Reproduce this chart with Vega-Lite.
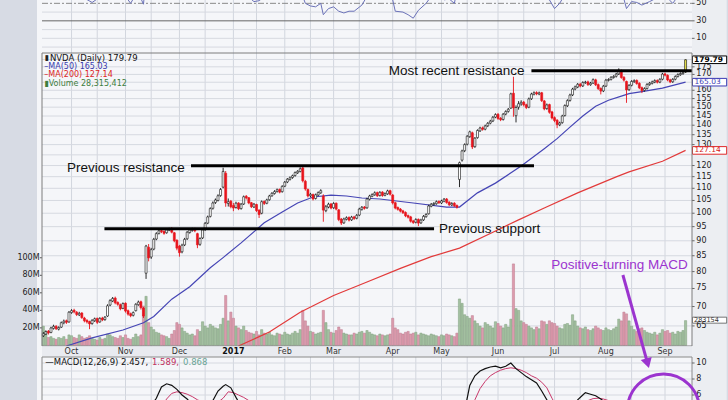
{
"$schema":"https://vega.github.io/schema/vega-lite/v6.json",
"width":660,"height":400,"autosize":{"type":"none"},
"padding":{"left":37,"right":31,"top":0,"bottom":0},
"background":"#d7dbe4",
"view":{"fill":"#f5f6f9","stroke":null},
"config":{"font":"DejaVu Sans"},
"datasets":{
"d":[
{"i":0,"o":62.6,"h":63.5,"l":62.3,"c":63.1,"v":22},{"i":1,"o":63.0,"h":63.9,"l":62.8,"c":63.6,"v":16},{"i":2,"o":63.7,"h":64.0,"l":62.9,"c":63.3,"v":9},{"i":3,"o":63.4,"h":64.8,"l":63.2,"c":64.5,"v":10},{"i":4,"o":64.4,"h":65.3,"l":64.1,"c":64.9,"v":8},{"i":5,"o":64.9,"h":65.2,"l":64.0,"c":64.3,"v":7},{"i":6,"o":64.2,"h":64.9,"l":63.9,"c":64.6,"v":9},{"i":7,"o":64.7,"h":66.1,"l":64.5,"c":65.8,"v":8},{"i":8,"o":65.8,"h":66.6,"l":65.4,"c":66.2,"v":10},{"i":9,"o":66.3,"h":66.6,"l":65.5,"c":65.9,"v":7},
{"i":10,"o":66.0,"h":68.8,"l":65.8,"c":68.5,"v":12},{"i":11,"o":68.4,"h":69.3,"l":68.1,"c":68.9,"v":11},{"i":12,"o":69.0,"h":69.4,"l":68.2,"c":68.6,"v":9},{"i":13,"o":68.5,"h":68.8,"l":67.5,"c":67.9,"v":8},{"i":14,"o":67.8,"h":68.6,"l":67.5,"c":68.2,"v":12},{"i":15,"o":68.3,"h":68.5,"l":66.8,"c":67.1,"v":10},{"i":16,"o":67.0,"h":67.3,"l":65.9,"c":66.3,"v":8},{"i":17,"o":66.4,"h":66.7,"l":65.6,"c":66.0,"v":9},{"i":18,"o":66.1,"h":66.3,"l":64.2,"c":65.5,"v":11},{"i":19,"o":65.6,"h":66.7,"l":65.3,"c":66.4,"v":8},
{"i":20,"o":66.3,"h":67.1,"l":66.0,"c":66.8,"v":7},{"i":21,"o":66.9,"h":67.1,"l":65.5,"c":65.9,"v":6},{"i":22,"o":66.0,"h":67.2,"l":65.8,"c":66.9,"v":9},{"i":23,"o":67.0,"h":67.3,"l":66.2,"c":66.5,"v":7},{"i":24,"o":66.6,"h":67.5,"l":66.3,"c":67.2,"v":8},{"i":25,"o":67.5,"h":70.6,"l":67.3,"c":70.2,"v":13},{"i":26,"o":70.4,"h":72.0,"l":70.1,"c":71.6,"v":12},{"i":27,"o":71.5,"h":72.6,"l":71.2,"c":72.2,"v":10},{"i":28,"o":72.3,"h":72.7,"l":70.6,"c":71.0,"v":9},{"i":29,"o":71.1,"h":71.4,"l":70.2,"c":70.6,"v":8},
{"i":30,"o":70.5,"h":70.8,"l":69.0,"c":69.4,"v":11},{"i":31,"o":69.5,"h":71.1,"l":69.3,"c":70.8,"v":9},{"i":32,"o":70.9,"h":71.1,"l":68.4,"c":68.8,"v":12},{"i":33,"o":68.9,"h":69.2,"l":67.6,"c":68.0,"v":8},{"i":34,"o":68.1,"h":68.4,"l":67.2,"c":67.6,"v":7},{"i":35,"o":67.7,"h":68.7,"l":67.4,"c":68.4,"v":9},{"i":36,"o":68.9,"h":70.9,"l":68.7,"c":70.6,"v":13},{"i":37,"o":70.5,"h":71.6,"l":70.2,"c":71.2,"v":10},{"i":38,"o":71.3,"h":71.6,"l":69.2,"c":69.7,"v":12},{"i":39,"o":69.6,"h":69.9,"l":67.0,"c":67.5,"v":45},
{"i":40,"o":79.5,"h":88.6,"l":77.8,"c":88.2,"v":56},{"i":41,"o":87.8,"h":88.9,"l":83.2,"c":84.3,"v":26},{"i":42,"o":84.6,"h":87.6,"l":84.0,"c":87.0,"v":21},{"i":43,"o":87.2,"h":91.0,"l":86.8,"c":90.5,"v":18},{"i":44,"o":90.6,"h":93.0,"l":90.2,"c":92.5,"v":15},{"i":45,"o":92.6,"h":94.0,"l":92.2,"c":93.5,"v":14},{"i":46,"o":93.6,"h":94.1,"l":92.7,"c":93.2,"v":12},{"i":47,"o":93.3,"h":93.7,"l":92.1,"c":92.6,"v":11},{"i":48,"o":92.8,"h":94.2,"l":92.5,"c":93.8,"v":10},{"i":49,"o":93.7,"h":94.6,"l":93.4,"c":94.2,"v":8},
{"i":50,"o":94.3,"h":94.8,"l":92.6,"c":93.0,"v":13},{"i":51,"o":92.8,"h":93.1,"l":89.5,"c":90.0,"v":17},{"i":52,"o":90.2,"h":90.5,"l":86.8,"c":87.5,"v":26},{"i":53,"o":88.2,"h":88.6,"l":84.7,"c":86.0,"v":24},{"i":54,"o":86.3,"h":89.0,"l":85.8,"c":88.5,"v":20},{"i":55,"o":88.6,"h":91.0,"l":88.2,"c":90.5,"v":16},{"i":56,"o":90.7,"h":93.4,"l":90.3,"c":93.0,"v":14},{"i":57,"o":92.9,"h":94.3,"l":92.5,"c":93.8,"v":12},{"i":58,"o":93.6,"h":94.6,"l":93.2,"c":94.1,"v":13},{"i":59,"o":94.2,"h":94.6,"l":93.0,"c":93.5,"v":11},
{"i":60,"o":92.5,"h":92.8,"l":87.5,"c":88.6,"v":18},{"i":61,"o":88.8,"h":91.2,"l":88.3,"c":90.8,"v":16},{"i":62,"o":91.0,"h":94.2,"l":90.6,"c":93.8,"v":27},{"i":63,"o":93.9,"h":96.7,"l":93.5,"c":96.2,"v":22},{"i":64,"o":96.3,"h":99.1,"l":95.9,"c":98.6,"v":20},{"i":65,"o":98.8,"h":102.3,"l":98.4,"c":101.8,"v":24},{"i":66,"o":101.9,"h":104.6,"l":101.4,"c":104.0,"v":22},{"i":67,"o":104.2,"h":105.8,"l":103.6,"c":105.2,"v":20},{"i":68,"o":105.0,"h":107.5,"l":104.6,"c":106.9,"v":19},{"i":69,"o":107.0,"h":110.1,"l":106.5,"c":109.5,"v":24},
{"i":70,"o":110.5,"h":119.0,"l":110.0,"c":117.3,"v":31},{"i":71,"o":116.5,"h":117.5,"l":102.5,"c":104.0,"v":57},{"i":72,"o":103.8,"h":105.8,"l":102.6,"c":104.5,"v":28},{"i":73,"o":104.7,"h":105.2,"l":101.9,"c":102.5,"v":38},{"i":74,"o":103.0,"h":104.0,"l":100.8,"c":102.0,"v":31},{"i":75,"o":102.2,"h":104.5,"l":101.8,"c":103.9,"v":22},{"i":76,"o":104.0,"h":104.3,"l":101.2,"c":101.7,"v":20},{"i":77,"o":101.8,"h":104.0,"l":101.4,"c":103.5,"v":18},{"i":78,"o":103.6,"h":107.0,"l":103.2,"c":106.5,"v":22},{"i":79,"o":106.7,"h":107.2,"l":105.4,"c":106.0,"v":17},
{"i":80,"o":106.1,"h":106.4,"l":103.5,"c":104.0,"v":15},{"i":81,"o":104.1,"h":104.4,"l":102.0,"c":102.5,"v":14},{"i":82,"o":102.4,"h":104.0,"l":102.0,"c":103.5,"v":13},{"i":83,"o":103.4,"h":103.7,"l":100.5,"c":101.0,"v":16},{"i":84,"o":101.2,"h":101.5,"l":98.2,"c":99.5,"v":12},{"i":85,"o":100.0,"h":105.0,"l":99.6,"c":104.5,"v":18},{"i":86,"o":104.6,"h":105.0,"l":103.2,"c":103.8,"v":14},{"i":87,"o":103.9,"h":105.7,"l":103.5,"c":105.2,"v":13},{"i":88,"o":105.3,"h":107.3,"l":104.9,"c":106.8,"v":15},{"i":89,"o":106.9,"h":108.4,"l":106.5,"c":107.9,"v":12},
{"i":90,"o":107.8,"h":109.2,"l":107.4,"c":108.6,"v":11},{"i":91,"o":108.7,"h":109.9,"l":108.2,"c":109.4,"v":14},{"i":92,"o":109.5,"h":109.9,"l":107.9,"c":108.4,"v":13},{"i":93,"o":108.6,"h":111.3,"l":108.2,"c":110.8,"v":12},{"i":94,"o":110.9,"h":113.1,"l":110.5,"c":112.6,"v":15},{"i":95,"o":112.7,"h":114.4,"l":112.2,"c":113.9,"v":13},{"i":96,"o":113.8,"h":115.1,"l":113.3,"c":114.5,"v":12},{"i":97,"o":114.6,"h":115.9,"l":114.1,"c":115.4,"v":14},{"i":98,"o":115.5,"h":117.3,"l":115.0,"c":116.8,"v":16},{"i":99,"o":116.7,"h":117.9,"l":116.2,"c":117.4,"v":14},
{"i":100,"o":117.3,"h":119.2,"l":116.9,"c":118.5,"v":18},{"i":101,"o":118.9,"h":119.8,"l":112.5,"c":113.2,"v":40},{"i":102,"o":113.0,"h":113.6,"l":109.0,"c":109.7,"v":28},{"i":103,"o":109.5,"h":109.9,"l":106.2,"c":106.8,"v":22},{"i":104,"o":106.9,"h":108.1,"l":106.3,"c":107.5,"v":16},{"i":105,"o":107.4,"h":107.8,"l":105.0,"c":105.6,"v":15},{"i":106,"o":105.8,"h":107.8,"l":105.4,"c":107.3,"v":13},{"i":107,"o":107.2,"h":108.7,"l":106.8,"c":108.2,"v":14},{"i":108,"o":108.1,"h":109.6,"l":107.7,"c":109.0,"v":15},{"i":109,"o":106.8,"h":107.5,"l":96.8,"c":101.2,"v":40},
{"i":110,"o":101.0,"h":103.2,"l":100.4,"c":102.5,"v":26},{"i":111,"o":102.4,"h":104.1,"l":101.9,"c":103.5,"v":18},{"i":112,"o":103.6,"h":104.0,"l":101.5,"c":102.0,"v":15},{"i":113,"o":102.1,"h":104.3,"l":101.7,"c":103.8,"v":14},{"i":114,"o":103.9,"h":104.2,"l":101.1,"c":101.6,"v":17},{"i":115,"o":101.3,"h":101.6,"l":97.0,"c":97.6,"v":21},{"i":116,"o":97.8,"h":98.2,"l":95.6,"c":96.3,"v":18},{"i":117,"o":96.4,"h":98.3,"l":96.0,"c":97.8,"v":14},{"i":118,"o":97.7,"h":98.8,"l":97.3,"c":98.3,"v":13},{"i":119,"o":98.4,"h":98.8,"l":96.9,"c":97.4,"v":12},
{"i":120,"o":97.5,"h":99.0,"l":97.1,"c":98.5,"v":12},{"i":121,"o":98.6,"h":99.0,"l":97.5,"c":98.0,"v":14},{"i":122,"o":98.1,"h":99.7,"l":97.7,"c":99.2,"v":13},{"i":123,"o":99.3,"h":102.1,"l":98.9,"c":101.6,"v":15},{"i":124,"o":101.5,"h":102.8,"l":101.0,"c":102.3,"v":16},{"i":125,"o":102.4,"h":102.8,"l":101.4,"c":101.9,"v":14},{"i":126,"o":102.1,"h":106.1,"l":101.7,"c":105.6,"v":17},{"i":127,"o":105.5,"h":107.3,"l":105.0,"c":106.8,"v":15},{"i":128,"o":106.7,"h":107.9,"l":106.3,"c":107.4,"v":13},{"i":129,"o":107.3,"h":108.7,"l":106.9,"c":108.1,"v":12},
{"i":130,"o":108.2,"h":108.6,"l":106.4,"c":106.9,"v":11},{"i":131,"o":107.0,"h":108.8,"l":106.6,"c":108.3,"v":13},{"i":132,"o":108.4,"h":108.8,"l":106.5,"c":107.0,"v":12},{"i":133,"o":107.1,"h":108.3,"l":106.7,"c":107.8,"v":11},{"i":134,"o":107.7,"h":109.4,"l":107.3,"c":108.9,"v":12},{"i":135,"o":109.0,"h":109.4,"l":107.0,"c":107.5,"v":13},{"i":136,"o":107.2,"h":107.6,"l":103.4,"c":104.0,"v":31},{"i":137,"o":104.1,"h":104.5,"l":101.5,"c":102.0,"v":20},{"i":138,"o":102.2,"h":102.6,"l":101.0,"c":101.5,"v":18},{"i":139,"o":101.6,"h":102.0,"l":100.3,"c":100.8,"v":14},
{"i":140,"o":100.9,"h":101.3,"l":99.7,"c":100.2,"v":13},{"i":141,"o":100.3,"h":100.7,"l":98.5,"c":99.0,"v":15},{"i":142,"o":99.1,"h":99.5,"l":98.0,"c":98.5,"v":16},{"i":143,"o":98.6,"h":99.0,"l":96.5,"c":97.0,"v":13},{"i":144,"o":97.1,"h":97.5,"l":96.0,"c":96.5,"v":14},{"i":145,"o":96.6,"h":98.1,"l":96.2,"c":97.6,"v":15},{"i":146,"o":97.7,"h":98.0,"l":95.2,"c":96.3,"v":12},{"i":147,"o":96.4,"h":97.9,"l":96.0,"c":97.4,"v":14},{"i":148,"o":97.5,"h":99.3,"l":97.1,"c":98.8,"v":13},{"i":149,"o":98.7,"h":100.0,"l":98.3,"c":99.5,"v":12},
{"i":150,"o":99.8,"h":103.3,"l":99.5,"c":102.8,"v":11},{"i":151,"o":102.7,"h":104.0,"l":102.3,"c":103.5,"v":13},{"i":152,"o":103.4,"h":104.3,"l":102.9,"c":103.8,"v":12},{"i":153,"o":103.7,"h":105.0,"l":103.3,"c":104.5,"v":11},{"i":154,"o":104.6,"h":105.0,"l":103.6,"c":104.1,"v":10},{"i":155,"o":104.0,"h":105.3,"l":103.6,"c":104.8,"v":12},{"i":156,"o":104.7,"h":106.0,"l":104.3,"c":105.5,"v":11},{"i":157,"o":105.6,"h":106.0,"l":103.7,"c":104.2,"v":13},{"i":158,"o":104.3,"h":104.7,"l":102.8,"c":103.3,"v":12},{"i":159,"o":103.2,"h":104.3,"l":102.8,"c":103.8,"v":11},
{"i":160,"o":103.9,"h":104.3,"l":102.4,"c":102.9,"v":10},{"i":161,"o":103.0,"h":103.4,"l":101.8,"c":102.3,"v":14},{"i":162,"o":113.8,"h":121.8,"l":110.5,"c":121.3,"v":53},{"i":163,"o":122.5,"h":127.5,"l":121.8,"c":126.9,"v":48},{"i":164,"o":127.0,"h":130.6,"l":126.3,"c":130.0,"v":35},{"i":165,"o":130.2,"h":134.8,"l":129.6,"c":134.2,"v":33},{"i":166,"o":134.0,"h":137.1,"l":133.4,"c":136.5,"v":31},{"i":167,"o":136.0,"h":136.6,"l":127.8,"c":128.8,"v":34},{"i":168,"o":129.0,"h":133.8,"l":128.4,"c":133.2,"v":28},{"i":169,"o":133.5,"h":137.8,"l":133.0,"c":137.2,"v":25},
{"i":170,"o":137.0,"h":139.2,"l":136.4,"c":138.5,"v":22},{"i":171,"o":138.6,"h":139.3,"l":137.1,"c":137.8,"v":20},{"i":172,"o":137.9,"h":140.3,"l":137.3,"c":139.6,"v":26},{"i":173,"o":139.7,"h":141.7,"l":139.0,"c":141.0,"v":24},{"i":174,"o":141.1,"h":142.9,"l":140.5,"c":142.2,"v":22},{"i":175,"o":142.3,"h":145.0,"l":141.7,"c":144.3,"v":20},{"i":176,"o":144.4,"h":146.5,"l":143.8,"c":145.8,"v":27},{"i":177,"o":146.0,"h":146.6,"l":142.9,"c":143.6,"v":25},{"i":178,"o":143.8,"h":144.4,"l":142.2,"c":143.0,"v":22},{"i":179,"o":143.1,"h":146.7,"l":142.5,"c":146.0,"v":20},
{"i":180,"o":146.1,"h":148.2,"l":145.4,"c":147.5,"v":24},{"i":181,"o":147.6,"h":149.5,"l":146.9,"c":148.8,"v":21},{"i":182,"o":149.5,"h":158.5,"l":149.0,"c":157.8,"v":30},{"i":183,"o":158.2,"h":168.5,"l":144.6,"c":149.6,"v":93},{"i":184,"o":145.2,"h":151.0,"l":141.5,"c":149.8,"v":42},{"i":185,"o":150.0,"h":153.5,"l":148.6,"c":152.0,"v":40},{"i":186,"o":151.9,"h":154.0,"l":150.8,"c":152.8,"v":28},{"i":187,"o":152.9,"h":153.6,"l":150.4,"c":151.3,"v":26},{"i":188,"o":151.4,"h":152.0,"l":148.9,"c":149.8,"v":24},{"i":189,"o":150.0,"h":155.6,"l":149.4,"c":154.8,"v":22},
{"i":190,"o":154.9,"h":158.5,"l":154.2,"c":157.7,"v":20},{"i":191,"o":157.6,"h":159.3,"l":156.9,"c":158.5,"v":18},{"i":192,"o":158.6,"h":159.4,"l":157.0,"c":157.8,"v":21},{"i":193,"o":157.7,"h":159.2,"l":157.0,"c":158.4,"v":19},{"i":194,"o":158.5,"h":159.0,"l":153.0,"c":153.8,"v":28},{"i":195,"o":153.6,"h":154.2,"l":148.2,"c":149.0,"v":27},{"i":196,"o":149.2,"h":152.1,"l":148.5,"c":151.3,"v":24},{"i":197,"o":151.5,"h":152.0,"l":146.3,"c":147.1,"v":28},{"i":198,"o":147.3,"h":147.9,"l":143.1,"c":143.9,"v":26},{"i":199,"o":144.1,"h":144.8,"l":141.6,"c":142.5,"v":25},
{"i":200,"o":142.7,"h":143.3,"l":138.4,"c":140.3,"v":22},{"i":201,"o":140.2,"h":141.9,"l":139.5,"c":141.2,"v":20},{"i":202,"o":141.4,"h":145.7,"l":140.8,"c":145.0,"v":19},{"i":203,"o":145.3,"h":151.6,"l":144.7,"c":150.9,"v":24},{"i":204,"o":150.8,"h":154.6,"l":150.1,"c":153.8,"v":25},{"i":205,"o":153.9,"h":157.9,"l":153.2,"c":157.1,"v":23},{"i":206,"o":157.2,"h":161.5,"l":156.5,"c":160.7,"v":35},{"i":207,"o":160.8,"h":162.9,"l":160.0,"c":162.1,"v":28},{"i":208,"o":162.0,"h":164.5,"l":161.3,"c":163.7,"v":22},{"i":209,"o":163.8,"h":164.6,"l":161.8,"c":162.6,"v":20},
{"i":210,"o":162.7,"h":165.6,"l":162.0,"c":164.8,"v":19},{"i":211,"o":164.7,"h":165.9,"l":164.0,"c":165.1,"v":21},{"i":212,"o":165.2,"h":166.0,"l":162.7,"c":163.5,"v":18},{"i":213,"o":163.4,"h":165.2,"l":162.8,"c":164.4,"v":17},{"i":214,"o":164.5,"h":167.4,"l":163.9,"c":166.6,"v":19},{"i":215,"o":166.5,"h":167.2,"l":162.6,"c":163.4,"v":22},{"i":216,"o":163.5,"h":164.2,"l":160.2,"c":161.0,"v":20},{"i":217,"o":161.1,"h":161.8,"l":157.5,"c":159.5,"v":18},{"i":218,"o":159.6,"h":163.3,"l":158.9,"c":162.5,"v":17},{"i":219,"o":162.6,"h":167.1,"l":162.0,"c":166.3,"v":20},
{"i":220,"o":166.2,"h":167.5,"l":165.5,"c":166.7,"v":18},{"i":221,"o":166.8,"h":168.9,"l":166.1,"c":168.1,"v":17},{"i":222,"o":168.0,"h":169.5,"l":167.3,"c":168.7,"v":19},{"i":223,"o":168.8,"h":171.0,"l":168.0,"c":170.2,"v":21},{"i":224,"o":170.3,"h":174.0,"l":169.6,"c":172.6,"v":30},{"i":225,"o":172.4,"h":173.2,"l":167.2,"c":168.0,"v":28},{"i":226,"o":168.1,"h":168.9,"l":165.4,"c":166.3,"v":38},{"i":227,"o":165.5,"h":166.0,"l":152.5,"c":160.2,"v":36},{"i":228,"o":160.4,"h":163.8,"l":159.6,"c":163.0,"v":28},{"i":229,"o":163.1,"h":166.3,"l":162.4,"c":165.5,"v":22},
{"i":230,"o":165.4,"h":166.8,"l":164.6,"c":166.0,"v":18},{"i":231,"o":166.1,"h":166.8,"l":163.4,"c":164.2,"v":16},{"i":232,"o":164.3,"h":165.0,"l":160.7,"c":161.5,"v":19},{"i":233,"o":161.6,"h":162.3,"l":158.3,"c":159.8,"v":20},{"i":234,"o":159.9,"h":161.8,"l":159.2,"c":161.0,"v":17},{"i":235,"o":161.1,"h":164.4,"l":160.4,"c":163.6,"v":15},{"i":236,"o":163.5,"h":165.2,"l":162.8,"c":164.4,"v":14},{"i":237,"o":164.3,"h":166.0,"l":163.6,"c":165.2,"v":13},{"i":238,"o":165.1,"h":166.8,"l":164.4,"c":166.0,"v":15},{"i":239,"o":166.1,"h":166.8,"l":164.2,"c":165.0,"v":12},
{"i":240,"o":165.1,"h":167.6,"l":164.4,"c":166.8,"v":14},{"i":241,"o":166.9,"h":171.0,"l":166.2,"c":170.2,"v":18},{"i":242,"o":170.3,"h":171.1,"l":168.7,"c":169.5,"v":16},{"i":243,"o":169.4,"h":170.0,"l":165.6,"c":166.4,"v":17},{"i":244,"o":166.5,"h":167.2,"l":164.4,"c":165.2,"v":14},{"i":245,"o":165.3,"h":167.6,"l":164.6,"c":166.8,"v":15},{"i":246,"o":166.9,"h":169.4,"l":166.2,"c":168.6,"v":13},{"i":247,"o":168.7,"h":170.7,"l":168.0,"c":169.9,"v":16},{"i":248,"o":169.8,"h":171.4,"l":169.1,"c":170.6,"v":15},{"i":249,"o":170.5,"h":172.0,"l":169.8,"c":171.2,"v":17},
{"i":250,"o":171.5,"h":180.0,"l":171.0,"c":179.79,"v":28.3}
],
"ma50":[{"i":9,"m":60.2},{"i":19,"m":62.1},{"i":31,"m":64.0},{"i":39,"m":65.8},{"i":43,"m":67.4},{"i":50,"m":72.0},{"i":57,"m":75.5},{"i":65,"m":81.2},{"i":70,"m":84.4},{"i":77,"m":89.3},{"i":86,"m":96.4},{"i":93,"m":100.5},{"i":99,"m":104.0},{"i":105,"m":106.4},{"i":112,"m":107.2},{"i":118,"m":106.8},{"i":124,"m":106.0},{"i":131,"m":105.6},{"i":144,"m":104.0},{"i":157,"m":102.4},{"i":162,"m":102.4},{"i":169,"m":108.1},{"i":176,"m":112.2},{"i":186,"m":119.8},{"i":195,"m":128.0},{"i":200,"m":133.0},{"i":205,"m":139.0},{"i":210,"m":145.0},{"i":215,"m":150.5},{"i":220,"m":154.0},{"i":225,"m":156.5},{"i":228,"m":158.0},{"i":233,"m":159.2},{"i":241,"m":161.3},{"i":250,"m":165.03}],
"ma200":[{"i":76,"m":60.2},{"i":88,"m":63.5},{"i":100,"m":68.5},{"i":113,"m":73.0},{"i":126,"m":76.9},{"i":139,"m":81.0},{"i":151,"m":84.7},{"i":162,"m":87.5},{"i":175,"m":93.0},{"i":185,"m":97.5},{"i":195,"m":102.0},{"i":208,"m":108.1},{"i":223,"m":114.9},{"i":228,"m":117.1},{"i":241,"m":122.0},{"i":250,"m":127.14}],
"macd":[{"i":30,"v":1.0},{"i":38,"v":1.2},{"i":40,"v":2.8},{"i":42,"v":4.6},{"i":44,"v":5.6},{"i":46,"v":7.0},{"i":48,"v":7.4},{"i":50,"v":7.2},{"i":52,"v":6.7},{"i":54,"v":6.0},{"i":56,"v":5.5},{"i":58,"v":4.8},{"i":60,"v":4.3},{"i":62,"v":4.3},{"i":64,"v":4.8},{"i":66,"v":5.3},{"i":68,"v":6.5},{"i":70,"v":7.1},{"i":71,"v":7.3},{"i":73,"v":6.9},{"i":75,"v":5.7},{"i":77,"v":4.6},{"i":80,"v":3.9},{"i":85,"v":3.0},{"i":90,"v":3.2},{"i":95,"v":3.8},{"i":100,"v":4.4},{"i":104,"v":3.6},{"i":110,"v":1.5},{"i":115,"v":0.3},{"i":120,"v":-0.8},{"i":125,"v":-0.4},{"i":130,"v":0.6},{"i":135,"v":0.8},{"i":140,"v":-1.2},{"i":145,"v":-2.0},{"i":150,"v":-1.5},{"i":155,"v":-0.8},{"i":160,"v":-0.5},{"i":162,"v":1.5},{"i":164,"v":4.0},{"i":166,"v":7.2},{"i":168,"v":8.4},{"i":170,"v":9.0},{"i":172,"v":9.3},{"i":174,"v":9.5},{"i":176,"v":9.6},{"i":178,"v":9.4},{"i":180,"v":9.6},{"i":182,"v":10.0},{"i":184,"v":9.3},{"i":186,"v":8.8},{"i":188,"v":8.3},{"i":190,"v":7.9},{"i":192,"v":7.5},{"i":194,"v":6.5},{"i":196,"v":5.4},{"i":198,"v":4.0},{"i":200,"v":2.8},{"i":202,"v":2.5},{"i":204,"v":3.2},{"i":206,"v":4.4},{"i":208,"v":5.4},{"i":210,"v":6.0},{"i":211,"v":6.3},{"i":213,"v":6.1},{"i":215,"v":5.9},{"i":217,"v":5.5},{"i":219,"v":5.0},{"i":221,"v":4.8},{"i":224,"v":5.2},{"i":226,"v":4.2},{"i":228,"v":3.0},{"i":232,"v":1.8},{"i":236,"v":1.4},{"i":240,"v":1.7},{"i":244,"v":1.9},{"i":247,"v":1.9},{"i":250,"v":2.46}],
"sig":[{"i":40,"v":1.2},{"i":44,"v":2.8},{"i":46,"v":4.5},{"i":48,"v":5.5},{"i":50,"v":6.2},{"i":52,"v":6.4},{"i":54,"v":6.3},{"i":56,"v":6.1},{"i":58,"v":5.8},{"i":60,"v":5.4},{"i":62,"v":5.1},{"i":64,"v":5.0},{"i":66,"v":5.0},{"i":68,"v":5.1},{"i":70,"v":5.6},{"i":72,"v":6.4},{"i":74,"v":6.3},{"i":76,"v":6.0},{"i":78,"v":5.7},{"i":80,"v":5.3},{"i":85,"v":4.4},{"i":90,"v":3.8},{"i":95,"v":3.7},{"i":100,"v":3.9},{"i":105,"v":3.9},{"i":110,"v":3.0},{"i":115,"v":1.8},{"i":120,"v":0.6},{"i":125,"v":0.0},{"i":130,"v":0.1},{"i":135,"v":0.3},{"i":140,"v":-0.2},{"i":145,"v":-1.0},{"i":150,"v":-1.3},{"i":155,"v":-1.2},{"i":160,"v":-0.9},{"i":164,"v":0.4},{"i":166,"v":2.4},{"i":168,"v":5.4},{"i":170,"v":6.8},{"i":172,"v":7.7},{"i":174,"v":8.4},{"i":176,"v":8.8},{"i":178,"v":9.1},{"i":180,"v":9.3},{"i":182,"v":9.4},{"i":184,"v":9.3},{"i":186,"v":9.1},{"i":188,"v":8.8},{"i":190,"v":8.4},{"i":192,"v":8.1},{"i":194,"v":7.6},{"i":196,"v":6.9},{"i":198,"v":5.6},{"i":200,"v":4.4},{"i":202,"v":3.6},{"i":204,"v":3.5},{"i":206,"v":3.8},{"i":208,"v":4.3},{"i":210,"v":4.9},{"i":212,"v":5.3},{"i":214,"v":5.55},{"i":216,"v":5.6},{"i":218,"v":5.5},{"i":220,"v":5.3},{"i":222,"v":5.2},{"i":224,"v":5.1},{"i":226,"v":4.9},{"i":228,"v":4.3},{"i":232,"v":3.1},{"i":236,"v":2.2},{"i":240,"v":1.8},{"i":244,"v":1.6},{"i":247,"v":1.55},{"i":250,"v":1.59}],
"rsi":[{"i":0,"v":58},{"i":4,"v":62},{"i":8,"v":64},{"i":10,"v":72},{"i":13,"v":62},{"i":16,"v":56},{"i":19,"v":51},{"i":22,"v":57},{"i":24,"v":58},{"i":26,"v":70},{"i":28,"v":64},{"i":31,"v":62},{"i":34,"v":50},{"i":36,"v":60},{"i":37,"v":62},{"i":39,"v":49},{"i":40,"v":80},{"i":44,"v":82},{"i":48,"v":78},{"i":52,"v":60},{"i":53,"v":56},{"i":56,"v":64},{"i":59,"v":64},{"i":60,"v":57},{"i":64,"v":70},{"i":70,"v":80},{"i":71,"v":60},{"i":74,"v":57},{"i":78,"v":62},{"i":82,"v":52},{"i":84,"v":53},{"i":88,"v":62},{"i":93,"v":66},{"i":98,"v":70},{"i":100,"v":70},{"i":101,"v":58},{"i":102,"v":50},{"i":104,"v":47},{"i":106,"v":46},{"i":108,"v":50},{"i":109,"v":37},{"i":111,"v":44},{"i":113,"v":46},{"i":115,"v":41},{"i":117,"v":39},{"i":119,"v":41},{"i":121,"v":41},{"i":124,"v":48},{"i":126,"v":58},{"i":130,"v":60},{"i":134,"v":61},{"i":136,"v":54},{"i":137,"v":41},{"i":140,"v":40},{"i":142,"v":37},{"i":144,"v":33},{"i":146,"v":42},{"i":149,"v":50},{"i":151,"v":58},{"i":154,"v":60},{"i":156,"v":54},{"i":158,"v":55},{"i":160,"v":50},{"i":162,"v":78},{"i":165,"v":82},{"i":170,"v":80},{"i":176,"v":72},{"i":182,"v":76},{"i":184,"v":58},{"i":188,"v":60},{"i":192,"v":66},{"i":195,"v":56},{"i":197,"v":54},{"i":199,"v":44},{"i":201,"v":50},{"i":203,"v":60},{"i":207,"v":70},{"i":215,"v":64},{"i":217,"v":58},{"i":220,"v":66},{"i":224,"v":70},{"i":226,"v":55},{"i":227,"v":44},{"i":229,"v":52},{"i":231,"v":51},{"i":233,"v":48},{"i":236,"v":52},{"i":238,"v":55},{"i":240,"v":56},{"i":242,"v":60},{"i":244,"v":53},{"i":245,"v":50},{"i":247,"v":58},{"i":250,"v":72}],
"vg":[{"i":11},{"i":32},{"i":53},{"i":74},{"i":94},{"i":113},{"i":136},{"i":155},{"i":177},{"i":199},{"i":219},{"i":242},{"i":21},{"i":42},{"i":63},{"i":83},{"i":104},{"i":123},{"i":145},{"i":165},{"i":187},{"i":209},{"i":229}],
"pt":[{"p":65},{"p":70},{"p":75},{"p":80},{"p":85},{"p":90},{"p":95},{"p":100},{"p":105},{"p":110},{"p":115},{"p":120},{"p":125},{"p":130},{"p":135},{"p":140},{"p":145},{"p":150},{"p":155},{"p":160},{"p":165},{"p":170},{"p":175},{"p":180}],
"pl":[{"p":65},{"p":70},{"p":75},{"p":80},{"p":85},{"p":90},{"p":95},{"p":100},{"p":105},{"p":110},{"p":115},{"p":120},{"p":130},{"p":135},{"p":140},{"p":145},{"p":150},{"p":155},{"p":160},{"p":170},{"p":175}],
"vl":[{"v":20,"t":"20M"},{"v":40,"t":"40M"},{"v":60,"t":"60M"},{"v":80,"t":"80M"},{"v":100,"t":"100M"}],
"ml":[{"i":11,"t":"Oct"},{"i":32,"t":"Nov"},{"i":53,"t":"Dec"},{"i":74,"t":"2017"},{"i":94,"t":"Feb"},{"i":113,"t":"Mar"},{"i":136,"t":"Apr"},{"i":155,"t":"May"},{"i":177,"t":"Jun"},{"i":199,"t":"Jul"},{"i":219,"t":"Aug"},{"i":242,"t":"Sep"}],
"mg":[{"v":6},{"v":7},{"v":8},{"v":9},{"v":10}],
"mgl":[{"v":6},{"v":8},{"v":10}],
"rg":[{"v":0},{"v":10},{"v":20},{"v":40}],
"rgl":[{"v":10},{"v":30},{"v":50}],
"lv":[{"s":57.5,"e":191.0,"p":119.9},{"s":23.8,"e":152.1,"p":94.2},{"s":190.0,"e":252.5,"p":172.4}],
"tg":[{"k":"p","p":179.79,"t":"179.79"},{"k":"m50","p":165.03,"t":"165.03"},{"k":"m200","p":127.14,"t":"127.14"}],
"one":[{}]
},
"resolve":{"scale":{"y":"independent"}},
"layer":[
{"layer":[
{"data":{"name":"one"},"mark":{"type":"rect","fill":"#eceef2"},"encoding":{"x":{"datum":252.5,"type":"quantitative","scale":{"domain":[-0.5,252.5],"nice":false,"zero":false},"axis":null},"x2":{"datum":266},"y":{"datum":40,"type":"quantitative","scale":{"type":"log","domain":[60.2,184.5],"range":[346,53],"nice":false},"axis":null},"y2":{"datum":260}}},
{"data":{"name":"vg"},"mark":{"type":"rule","color":"#d2d6de","strokeWidth":1},"encoding":{"x":{"field":"i","type":"quantitative","scale":{"domain":[-0.5,252.5],"nice":false,"zero":false},"axis":null},"y":{"datum":40,"type":"quantitative","scale":{"type":"log","domain":[60.2,184.5],"range":[346,53],"nice":false},"axis":null},"y2":{"datum":260}}},
{"data":{"name":"pt"},"mark":{"type":"rule","color":"#d6d9e0","strokeWidth":1},"encoding":{"x":{"datum":-0.5,"type":"quantitative","scale":{"domain":[-0.5,252.5],"nice":false,"zero":false},"axis":null},"x2":{"datum":252.5},"y":{"field":"p","type":"quantitative","scale":{"type":"log","domain":[60.2,184.5],"range":[346,53],"nice":false},"axis":null}}}
]},
{"layer":[
{"data":{"name":"d"},"mark":{"type":"bar","width":2.2,"strokeWidth":0.5},"encoding":{"x":{"field":"i","type":"quantitative","scale":{"domain":[-0.5,252.5],"nice":false,"zero":false},"axis":null},"y":{"field":"v","type":"quantitative","scale":{"domain":[0,333.7],"range":[345.4,53],"nice":false},"axis":null},"fill":{"condition":{"test":"datum.c >= datum.o","value":"#a4c0a1"},"value":"#dc9bad"},"stroke":{"condition":{"test":"datum.c >= datum.o","value":"#7f9e7c"},"value":"#bd7a8e"}}},
{"data":{"name":"vl"},"mark":{"type":"text","align":"right","baseline":"middle","fontSize":8,"color":"#222"},"encoding":{"x":{"datum":-1.45,"type":"quantitative","scale":{"domain":[-0.5,252.5],"nice":false,"zero":false},"axis":null},"y":{"field":"v","type":"quantitative","scale":{"domain":[0,333.7],"range":[345.4,53],"nice":false},"axis":null},"text":{"field":"t"}}},
{"data":{"name":"vl"},"mark":{"type":"rule","color":"#555"},"encoding":{"x":{"datum":-1.35,"type":"quantitative","scale":{"domain":[-0.5,252.5],"nice":false,"zero":false},"axis":null},"x2":{"datum":-0.5},"y":{"field":"v","type":"quantitative","scale":{"domain":[0,333.7],"range":[345.4,53],"nice":false},"axis":null}}},
{"data":{"name":"one"},"mark":{"type":"rect","fill":"#ffffff","stroke":"#555555","strokeWidth":0.8,"yOffset":-3,"y2Offset":3},"encoding":{"x":{"datum":252.7,"type":"quantitative","scale":{"domain":[-0.5,252.5],"nice":false,"zero":false},"axis":null},"x2":{"datum":266},"y":{"datum":28.8,"type":"quantitative","scale":{"domain":[0,333.7],"range":[345.4,53],"nice":false},"axis":null},"y2":{"datum":28.8}}},
{"data":{"name":"one"},"mark":{"type":"text","text":"283154","align":"left","baseline":"middle","fontSize":6.5,"color":"#333","dx":1.5},"encoding":{"x":{"datum":252.7,"type":"quantitative","scale":{"domain":[-0.5,252.5],"nice":false,"zero":false},"axis":null},"y":{"datum":28.8,"type":"quantitative","scale":{"domain":[0,333.7],"range":[345.4,53],"nice":false},"axis":null}}}
]},
{"layer":[
{"data":{"name":"ma200"},"mark":{"type":"line","color":"#e23a3a","strokeWidth":1.2},"encoding":{"x":{"field":"i","type":"quantitative","scale":{"domain":[-0.5,252.5],"nice":false,"zero":false},"axis":null},"y":{"field":"m","type":"quantitative","scale":{"type":"log","domain":[60.2,184.5],"range":[346,53],"nice":false},"axis":null}}},
{"data":{"name":"ma50"},"mark":{"type":"line","color":"#4545b5","strokeWidth":1.2},"encoding":{"x":{"field":"i","type":"quantitative","scale":{"domain":[-0.5,252.5],"nice":false,"zero":false},"axis":null},"y":{"field":"m","type":"quantitative","scale":{"type":"log","domain":[60.2,184.5],"range":[346,53],"nice":false},"axis":null}}},
{"data":{"name":"d"},"mark":{"type":"rule","strokeWidth":0.9},"encoding":{"x":{"field":"i","type":"quantitative","scale":{"domain":[-0.5,252.5],"nice":false,"zero":false},"axis":null},"y":{"field":"l","type":"quantitative","scale":{"type":"log","domain":[60.2,184.5],"range":[346,53],"nice":false},"axis":null},"y2":{"field":"h"},"color":{"condition":{"test":"datum.c >= datum.o","value":"#111111"},"value":"#e8141c"}}},
{"data":{"name":"d"},"mark":{"type":"bar","width":2,"strokeWidth":0.6},"encoding":{"x":{"field":"i","type":"quantitative","scale":{"domain":[-0.5,252.5],"nice":false,"zero":false},"axis":null},"y":{"field":"o","type":"quantitative","scale":{"type":"log","domain":[60.2,184.5],"range":[346,53],"nice":false},"axis":null},"y2":{"field":"c"},"fill":{"condition":[{"test":"datum.i == 250","value":"#e9e24a"},{"test":"datum.c >= datum.o","value":"#ffffff"}],"value":"#e8141c"},"stroke":{"condition":{"test":"datum.c >= datum.o","value":"#111111"},"value":"#e8141c"}}},
{"data":{"name":"lv"},"mark":{"type":"rule","color":"#000000","strokeWidth":3},"encoding":{"x":{"field":"s","type":"quantitative","scale":{"domain":[-0.5,252.5],"nice":false,"zero":false},"axis":null},"x2":{"field":"e"},"y":{"field":"p","type":"quantitative","scale":{"type":"log","domain":[60.2,184.5],"range":[346,53],"nice":false},"axis":null}}},
{"data":{"name":"one"},"mark":{"type":"text","text":"Previous resistance","align":"right","baseline":"middle","font":"Liberation Sans","fontSize":13.5,"color":"#111"},"encoding":{"x":{"datum":55.1,"type":"quantitative","scale":{"domain":[-0.5,252.5],"nice":false,"zero":false},"axis":null},"y":{"datum":118.9,"type":"quantitative","scale":{"type":"log","domain":[60.2,184.5],"range":[346,53],"nice":false},"axis":null}}},
{"data":{"name":"one"},"mark":{"type":"text","text":"Most recent resistance","align":"right","baseline":"middle","font":"Liberation Sans","fontSize":13.5,"color":"#111"},"encoding":{"x":{"datum":187.3,"type":"quantitative","scale":{"domain":[-0.5,252.5],"nice":false,"zero":false},"axis":null},"y":{"datum":172.2,"type":"quantitative","scale":{"type":"log","domain":[60.2,184.5],"range":[346,53],"nice":false},"axis":null}}},
{"data":{"name":"one"},"mark":{"type":"text","text":"Previous support","align":"left","baseline":"middle","font":"Liberation Sans","fontSize":13.5,"color":"#111"},"encoding":{"x":{"datum":154,"type":"quantitative","scale":{"domain":[-0.5,252.5],"nice":false,"zero":false},"axis":null},"y":{"datum":94.2,"type":"quantitative","scale":{"type":"log","domain":[60.2,184.5],"range":[346,53],"nice":false},"axis":null}}},
{"data":{"name":"one"},"mark":{"type":"text","text":"Positive-turning MACD","align":"center","baseline":"middle","font":"Liberation Sans","fontSize":13.5,"color":"#9b34cf"},"encoding":{"x":{"datum":224.3,"type":"quantitative","scale":{"domain":[-0.5,252.5],"nice":false,"zero":false},"axis":null},"y":{"datum":82.1,"type":"quantitative","scale":{"type":"log","domain":[60.2,184.5],"range":[346,53],"nice":false},"axis":null}}},
{"data":{"name":"one"},"mark":{"type":"text","text":"▮","align":"left","baseline":"middle","fontSize":7.5,"color":"#222"},"encoding":{"x":{"datum":0.6,"type":"quantitative","scale":{"domain":[-0.5,252.5],"nice":false,"zero":false},"axis":null},"y":{"datum":180.9,"type":"quantitative","scale":{"type":"log","domain":[60.2,184.5],"range":[346,53],"nice":false},"axis":null}}},
{"data":{"name":"one"},"mark":{"type":"text","text":"NVDA (Daily) 179.79","align":"left","baseline":"middle","fontSize":8.5,"color":"#111"},"encoding":{"x":{"datum":2.57,"type":"quantitative","scale":{"domain":[-0.5,252.5],"nice":false,"zero":false},"axis":null},"y":{"datum":180.9,"type":"quantitative","scale":{"type":"log","domain":[60.2,184.5],"range":[346,53],"nice":false},"axis":null}}},
{"data":{"name":"one"},"mark":{"type":"text","text":"–MA(50) 165.03","align":"left","baseline":"middle","fontSize":8,"color":"#3a3aae"},"encoding":{"x":{"datum":0.4,"type":"quantitative","scale":{"domain":[-0.5,252.5],"nice":false,"zero":false},"axis":null},"y":{"datum":175.0,"type":"quantitative","scale":{"type":"log","domain":[60.2,184.5],"range":[346,53],"nice":false},"axis":null}}},
{"data":{"name":"one"},"mark":{"type":"text","text":"–MA(200) 127.14","align":"left","baseline":"middle","fontSize":8,"color":"#dd2525"},"encoding":{"x":{"datum":0.4,"type":"quantitative","scale":{"domain":[-0.5,252.5],"nice":false,"zero":false},"axis":null},"y":{"datum":169.6,"type":"quantitative","scale":{"type":"log","domain":[60.2,184.5],"range":[346,53],"nice":false},"axis":null}}},
{"data":{"name":"one"},"mark":{"type":"text","text":"▮Volume 28,315,412","align":"left","baseline":"middle","fontSize":8,"color":"#3e7e3e"},"encoding":{"x":{"datum":0.4,"type":"quantitative","scale":{"domain":[-0.5,252.5],"nice":false,"zero":false},"axis":null},"y":{"datum":163.7,"type":"quantitative","scale":{"type":"log","domain":[60.2,184.5],"range":[346,53],"nice":false},"axis":null}}},
{"data":{"name":"pl"},"mark":{"type":"rule","color":"#666"},"encoding":{"x":{"datum":252.5,"type":"quantitative","scale":{"domain":[-0.5,252.5],"nice":false,"zero":false},"axis":null},"x2":{"datum":253.5},"y":{"field":"p","type":"quantitative","scale":{"type":"log","domain":[60.2,184.5],"range":[346,53],"nice":false},"axis":null}}},
{"data":{"name":"pl"},"mark":{"type":"text","align":"left","baseline":"middle","fontSize":8,"color":"#222"},"encoding":{"x":{"datum":254.2,"type":"quantitative","scale":{"domain":[-0.5,252.5],"nice":false,"zero":false},"axis":null},"y":{"field":"p","type":"quantitative","scale":{"type":"log","domain":[60.2,184.5],"range":[346,53],"nice":false},"axis":null},"text":{"field":"p","type":"quantitative"}}},
{"data":{"name":"tg"},"mark":{"type":"rect","fill":"#ffffff","strokeWidth":1,"yOffset":-3.8,"y2Offset":3.8},"encoding":{"x":{"datum":252.7,"type":"quantitative","scale":{"domain":[-0.5,252.5],"nice":false,"zero":false},"axis":null},"x2":{"datum":266},"y":{"field":"p","type":"quantitative","scale":{"type":"log","domain":[60.2,184.5],"range":[346,53],"nice":false},"axis":null},"y2":{"field":"p"},"stroke":{"field":"k","type":"nominal","scale":{"domain":["p","m50","m200"],"range":["#000000","#3b3bb5","#e02828"]},"legend":null}}},
{"data":{"name":"tg"},"transform":[{"filter":"datum.k != 'p'"}],"mark":{"type":"text","align":"left","baseline":"middle","fontSize":7.5,"dx":2},"encoding":{"x":{"datum":252.7,"type":"quantitative","scale":{"domain":[-0.5,252.5],"nice":false,"zero":false},"axis":null},"y":{"field":"p","type":"quantitative","scale":{"type":"log","domain":[60.2,184.5],"range":[346,53],"nice":false},"axis":null},"text":{"field":"t"},"color":{"field":"k","type":"nominal","scale":{"domain":["p","m50","m200"],"range":["#000000","#3b3bb5","#d42020"]},"legend":null}}},
{"data":{"name":"tg"},"transform":[{"filter":"datum.k == 'p'"}],"mark":{"type":"text","align":"left","baseline":"middle","fontSize":7.5,"fontWeight":"bold","dx":1.5,"color":"#000"},"encoding":{"x":{"datum":252.7,"type":"quantitative","scale":{"domain":[-0.5,252.5],"nice":false,"zero":false},"axis":null},"y":{"field":"p","type":"quantitative","scale":{"type":"log","domain":[60.2,184.5],"range":[346,53],"nice":false},"axis":null},"text":{"field":"t"}}},
{"data":{"name":"one"},"mark":{"type":"rect","fillOpacity":0,"stroke":"#7d7d7d","strokeWidth":1},"encoding":{"x":{"datum":-0.5,"type":"quantitative","scale":{"domain":[-0.5,252.5],"nice":false,"zero":false},"axis":null},"x2":{"datum":252.5},"y":{"datum":60.2,"type":"quantitative","scale":{"type":"log","domain":[60.2,184.5],"range":[346,53],"nice":false},"axis":null},"y2":{"datum":184.5}}}
]},
{"layer":[
{"data":{"name":"one"},"mark":{"type":"rect","fill":"#e9ebf0"},"encoding":{"x":{"datum":-0.5,"type":"quantitative","scale":{"domain":[-0.5,252.5],"nice":false,"zero":false},"axis":null},"x2":{"datum":252.5},"y":{"datum":10.75,"type":"quantitative","scale":{"domain":[0,10.75],"range":[443,357],"nice":false,"zero":false},"axis":null},"y2":{"datum":12.1}}},
{"data":{"name":"ml"},"transform":[{"filter":"datum.t != '2017'"}],"mark":{"type":"text","align":"center","baseline":"middle","fontSize":8,"color":"#333"},"encoding":{"x":{"field":"i","type":"quantitative","scale":{"domain":[-0.5,252.5],"nice":false,"zero":false},"axis":null},"y":{"datum":11.4,"type":"quantitative","scale":{"domain":[0,10.75],"range":[443,357],"nice":false,"zero":false},"axis":null},"text":{"field":"t"}}},
{"data":{"name":"ml"},"transform":[{"filter":"datum.t == '2017'"}],"mark":{"type":"text","align":"center","baseline":"middle","fontSize":8,"fontWeight":"bold","color":"#111"},"encoding":{"x":{"field":"i","type":"quantitative","scale":{"domain":[-0.5,252.5],"nice":false,"zero":false},"axis":null},"y":{"datum":11.4,"type":"quantitative","scale":{"domain":[0,10.75],"range":[443,357],"nice":false,"zero":false},"axis":null},"text":{"field":"t"}}},
{"data":{"name":"mg"},"mark":{"type":"rule","color":"#d6d9e0","strokeWidth":1},"encoding":{"x":{"datum":-0.5,"type":"quantitative","scale":{"domain":[-0.5,252.5],"nice":false,"zero":false},"axis":null},"x2":{"datum":252.5},"y":{"field":"v","type":"quantitative","scale":{"domain":[0,10.75],"range":[443,357],"nice":false,"zero":false},"axis":null}}},
{"data":{"name":"one"},"mark":{"type":"rect","fillOpacity":0,"stroke":"#8a8a8a","strokeWidth":1},"encoding":{"x":{"datum":-0.5,"type":"quantitative","scale":{"domain":[-0.5,252.5],"nice":false,"zero":false},"axis":null},"x2":{"datum":252.5},"y":{"datum":10.75,"type":"quantitative","scale":{"domain":[0,10.75],"range":[443,357],"nice":false,"zero":false},"axis":null},"y2":{"datum":-10}}},
{"data":{"name":"mgl"},"mark":{"type":"rule","color":"#666"},"encoding":{"x":{"datum":252.5,"type":"quantitative","scale":{"domain":[-0.5,252.5],"nice":false,"zero":false},"axis":null},"x2":{"datum":253.5},"y":{"field":"v","type":"quantitative","scale":{"domain":[0,10.75],"range":[443,357],"nice":false,"zero":false},"axis":null}}},
{"data":{"name":"mgl"},"mark":{"type":"text","align":"left","baseline":"middle","fontSize":8,"color":"#222"},"encoding":{"x":{"datum":254.2,"type":"quantitative","scale":{"domain":[-0.5,252.5],"nice":false,"zero":false},"axis":null},"y":{"field":"v","type":"quantitative","scale":{"domain":[0,10.75],"range":[443,357],"nice":false,"zero":false},"axis":null},"text":{"field":"v","type":"quantitative"}}},
{"data":{"name":"sig"},"mark":{"type":"line","color":"#c8386a","strokeWidth":1},"encoding":{"x":{"field":"i","type":"quantitative","scale":{"domain":[-0.5,252.5],"nice":false,"zero":false},"axis":null},"y":{"field":"v","type":"quantitative","scale":{"domain":[0,10.75],"range":[443,357],"nice":false,"zero":false},"axis":null}}},
{"data":{"name":"macd"},"mark":{"type":"line","color":"#111111","strokeWidth":1.2},"encoding":{"x":{"field":"i","type":"quantitative","scale":{"domain":[-0.5,252.5],"nice":false,"zero":false},"axis":null},"y":{"field":"v","type":"quantitative","scale":{"domain":[0,10.75],"range":[443,357],"nice":false,"zero":false},"axis":null}}},
{"data":{"name":"one"},"mark":{"type":"text","text":"—MACD(12,26,9) 2.457,","align":"left","baseline":"middle","fontSize":8.5,"color":"#111"},"encoding":{"x":{"datum":0.8,"type":"quantitative","scale":{"domain":[-0.5,252.5],"nice":false,"zero":false},"axis":null},"y":{"datum":10.09,"type":"quantitative","scale":{"domain":[0,10.75],"range":[443,357],"nice":false,"zero":false},"axis":null}}},
{"data":{"name":"one"},"mark":{"type":"text","text":"1.589,","align":"left","baseline":"middle","fontSize":8.5,"color":"#c03060"},"encoding":{"x":{"datum":42.3,"type":"quantitative","scale":{"domain":[-0.5,252.5],"nice":false,"zero":false},"axis":null},"y":{"datum":10.09,"type":"quantitative","scale":{"domain":[0,10.75],"range":[443,357],"nice":false,"zero":false},"axis":null}}},
{"data":{"name":"one"},"mark":{"type":"text","text":"0.868","align":"left","baseline":"middle","fontSize":8.5,"color":"#6aa595"},"encoding":{"x":{"datum":54.4,"type":"quantitative","scale":{"domain":[-0.5,252.5],"nice":false,"zero":false},"axis":null},"y":{"datum":10.09,"type":"quantitative","scale":{"domain":[0,10.75],"range":[443,357],"nice":false,"zero":false},"axis":null}}},
{"data":{"name":"one"},"mark":{"type":"point","shape":"circle","size":5184,"filled":false,"stroke":"#9b34cf","strokeWidth":3,"opacity":1},"encoding":{"x":{"datum":241.4,"type":"quantitative","scale":{"domain":[-0.5,252.5],"nice":false,"zero":false},"axis":null},"y":{"datum":4.125,"type":"quantitative","scale":{"domain":[0,10.75],"range":[443,357],"nice":false,"zero":false},"axis":null}}},
{"data":{"name":"one"},"mark":{"type":"rule","color":"#9b34cf","strokeWidth":3},"encoding":{"x":{"datum":225.6,"type":"quantitative","scale":{"domain":[-0.5,252.5],"nice":false,"zero":false},"axis":null},"x2":{"datum":235.2},"y":{"datum":21.0,"type":"quantitative","scale":{"domain":[0,10.75],"range":[443,357],"nice":false,"zero":false},"axis":null},"y2":{"datum":9.975}}},
{"data":{"name":"one"},"mark":{"type":"point","shape":"triangle-up","size":130,"filled":true,"color":"#9b34cf","opacity":1,"angle":164},"encoding":{"x":{"datum":235.2,"type":"quantitative","scale":{"domain":[-0.5,252.5],"nice":false,"zero":false},"axis":null},"y":{"datum":9.975,"type":"quantitative","scale":{"domain":[0,10.75],"range":[443,357],"nice":false,"zero":false},"axis":null}}}
]},
{"layer":[
{"data":{"name":"rg"},"mark":{"type":"rule","color":"#d6d9e0","strokeWidth":1},"encoding":{"x":{"datum":-0.5,"type":"quantitative","scale":{"domain":[-0.5,252.5],"nice":false,"zero":false},"axis":null},"x2":{"datum":252.5},"y":{"field":"v","type":"quantitative","scale":{"domain":[-7,100],"range":[53.2,-40.4],"nice":false,"zero":false},"axis":null}}},
{"data":{"name":"one"},"mark":{"type":"rule","color":"#666666","strokeWidth":1},"encoding":{"x":{"datum":-0.5,"type":"quantitative","scale":{"domain":[-0.5,252.5],"nice":false,"zero":false},"axis":null},"x2":{"datum":252.5},"y":{"datum":30,"type":"quantitative","scale":{"domain":[-7,100],"range":[53.2,-40.4],"nice":false,"zero":false},"axis":null}}},
{"data":{"name":"one"},"mark":{"type":"rule","color":"#8a8a8a","strokeWidth":1,"strokeDash":[6,2,2,2]},"encoding":{"x":{"datum":-0.5,"type":"quantitative","scale":{"domain":[-0.5,252.5],"nice":false,"zero":false},"axis":null},"x2":{"datum":252.5},"y":{"datum":50,"type":"quantitative","scale":{"domain":[-7,100],"range":[53.2,-40.4],"nice":false,"zero":false},"axis":null}}},
{"data":{"name":"rsi"},"mark":{"type":"line","color":"#6b72b8","strokeWidth":1},"encoding":{"x":{"field":"i","type":"quantitative","scale":{"domain":[-0.5,252.5],"nice":false,"zero":false},"axis":null},"y":{"field":"v","type":"quantitative","scale":{"domain":[-7,100],"range":[53.2,-40.4],"nice":false,"zero":false},"axis":null}}},
{"data":{"name":"rgl"},"mark":{"type":"rule","color":"#666"},"encoding":{"x":{"datum":252.5,"type":"quantitative","scale":{"domain":[-0.5,252.5],"nice":false,"zero":false},"axis":null},"x2":{"datum":253.5},"y":{"field":"v","type":"quantitative","scale":{"domain":[-7,100],"range":[53.2,-40.4],"nice":false,"zero":false},"axis":null}}},
{"data":{"name":"rgl"},"mark":{"type":"text","align":"left","baseline":"middle","fontSize":8,"color":"#222"},"encoding":{"x":{"datum":254.2,"type":"quantitative","scale":{"domain":[-0.5,252.5],"nice":false,"zero":false},"axis":null},"y":{"field":"v","type":"quantitative","scale":{"domain":[-7,100],"range":[53.2,-40.4],"nice":false,"zero":false},"axis":null},"text":{"field":"v","type":"quantitative"}}}
]}
]
}
